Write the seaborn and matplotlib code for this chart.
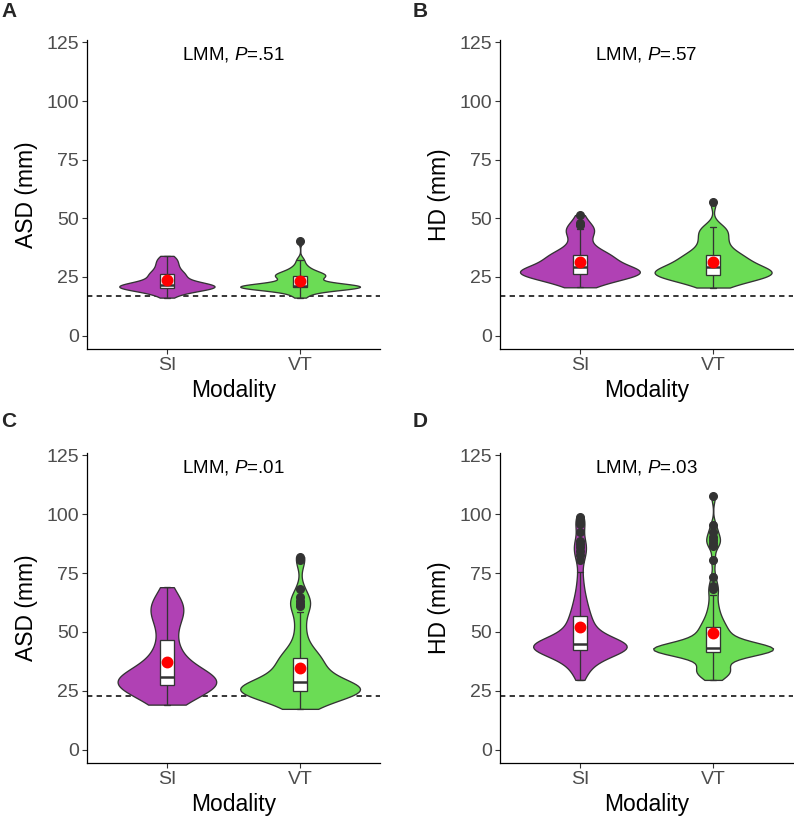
import numpy as np
import pandas as pd
import seaborn as sns
import matplotlib
matplotlib.use("Agg")
from matplotlib import pyplot as plt

modalities = ["SI", "VT"]
colors = {"SI": "#B041B4", "VT": "#6BDC55"}

# panel A - ASD (mm), first threshold
asd_a_si = [16.2, 17.5, 18.4, 19.0, 19.4, 19.7, 20.0, 20.1, 20.2, 20.2,
            20.4, 20.6, 20.8, 21.0, 21.1, 21.3, 21.4, 21.5, 21.6, 21.6,
            21.7, 22.0, 22.4, 22.9, 23.4, 24.0, 24.6, 25.2, 25.8, 26.1,
            26.4, 27.0, 27.8, 28.6, 29.4, 30.3, 31.2, 32.1, 33.0, 34.0]
asd_a_vt = [16.2, 17.6, 18.6, 19.3, 19.8, 20.1, 20.3, 20.4, 20.5, 20.55,
            20.6, 20.7, 20.8, 20.9, 21.0, 21.0, 21.1, 21.1, 21.2, 21.2,
            21.3, 21.5, 21.8, 22.2, 22.8, 23.6, 24.4, 24.9, 25.3, 25.4,
            25.7, 26.0, 26.3, 26.7, 27.2, 28.0, 28.8, 30.2, 32.4, 40.5]

# panel B - HD (mm)
hd_b_si = [20.6, 21.5, 22.3, 23.0, 23.6, 24.1, 24.6, 25.0, 25.4, 25.7,
           25.9, 26.1, 26.2, 26.4, 26.6, 26.8, 27.0, 27.2, 27.4, 27.6,
           27.8, 28.0, 28.3, 28.6, 28.9, 29.3, 29.7, 30.2, 30.7, 31.2,
           31.7, 32.2, 32.8, 33.4, 34.0, 34.3, 34.4, 34.5, 35.5, 36.5,
           37.5, 38.8, 40.5, 42.5, 44.0, 44.8, 45.3, 47.2, 47.9, 51.4]
hd_b_vt = [20.5, 21.4, 22.2, 22.9, 23.5, 24.0, 24.5, 24.9, 25.2, 25.5,
           25.7, 25.8, 25.9, 26.1, 26.3, 26.5, 26.7, 26.9, 27.1, 27.4,
           27.7, 28.0, 28.3, 28.6, 28.9, 29.3, 29.7, 30.1, 30.5, 31.0,
           31.5, 32.0, 32.6, 33.2, 33.8, 34.2, 34.4, 34.5, 35.6, 36.8,
           37.8, 39.0, 40.2, 41.4, 42.6, 43.8, 45.0, 46.0, 46.4, 57.0]

# panel C - ASD (mm), second threshold
asd_c_si = [19.1, 19.6, 20.3, 21.1, 22.0, 22.9, 23.7, 24.5, 25.2, 25.8,
            26.3, 26.7, 27.0, 27.3, 27.45, 27.6, 27.8, 28.0, 28.2, 28.4,
            28.6, 28.8, 29.0, 29.3, 29.6, 29.9, 30.2, 30.5, 30.7, 30.9,
            31.1, 31.6, 32.2, 32.9, 33.6, 34.4, 35.3, 36.2, 37.2, 38.3,
            39.5, 40.8, 42.2, 43.8, 46.0, 48.4, 50.5, 52.8, 54.6, 56.2,
            57.4, 58.4, 59.3, 60.1, 60.9, 61.8, 62.9, 64.3, 66.2, 69.0]
asd_c_vt = [17.3, 17.9, 18.6, 19.4, 20.3, 21.2, 22.0, 22.7, 23.3, 23.8,
            24.2, 24.45, 24.6, 24.7, 24.75, 24.8, 24.9, 25.0, 25.1, 25.2,
            25.35, 25.5, 25.65, 25.8, 26.0, 26.3, 26.7, 27.1, 27.6, 28.0,
            28.4, 28.6, 29.1, 29.7, 30.3, 31.0, 31.7, 32.4, 33.1, 33.9,
            34.7, 35.5, 36.4, 37.3, 38.2, 38.8, 39.2, 40.3, 41.5, 42.8,
            44.6, 47.5, 51.0, 54.5, 58.4, 61.0, 62.0, 63.3, 64.8, 68.3,
            80.4, 81.8]

# panel D - HD (mm)
hd_d_si = [29.6, 31.5, 33.0, 34.3, 35.4, 36.3, 37.1, 37.8, 38.4, 38.9,
           39.4, 39.8, 40.2, 40.6, 40.9, 41.2, 41.5, 41.8, 42.1, 42.3,
           42.5, 42.7, 42.9, 43.1, 43.3, 43.5, 43.6, 43.7, 43.8, 43.9,
           44.0, 44.1, 44.2, 44.3, 44.4, 44.5, 44.6, 44.7, 44.8, 44.9,
           45.1, 45.4, 45.7, 46.0, 46.4, 46.8, 47.2, 47.7, 48.2, 48.7,
           49.3, 49.9, 50.6, 51.3, 52.0, 52.8, 53.6, 54.5, 55.4, 56.3,
           57.3, 58.4, 59.6, 61.0, 62.5, 64.0, 66.0, 68.5, 71.5, 75.4,
           80.4, 82.5, 84.2, 86.0, 87.5, 88.5, 92.4, 96.0, 97.2, 98.6]
hd_d_vt = [29.6, 30.8, 31.6, 32.2, 32.7, 33.1, 33.5, 33.9, 34.4, 35.1,
           36.0, 37.2, 38.3, 39.1, 39.7, 40.2, 40.6, 40.9, 41.1, 41.3,
           41.5, 41.7, 41.85, 42.0, 42.1, 42.2, 42.3, 42.4, 42.5, 42.6,
           42.65, 42.7, 42.75, 42.8, 42.85, 42.9, 42.95, 43.0, 43.05, 43.1,
           43.2, 43.4, 43.6, 43.8, 44.0, 44.3, 44.6, 44.9, 45.3, 45.7,
           46.1, 46.6, 47.1, 47.7, 48.3, 49.0, 49.7, 50.4, 51.1, 51.8,
           52.6, 53.5, 54.5, 55.6, 57.0, 58.6, 60.5, 62.8, 65.5, 68.3,
           69.3, 73.3, 80.4, 86.7, 87.8, 89.0, 90.3, 92.4, 95.2, 107.6]

panel_letters = ["A", "B", "C", "D"]
y_labels = ["ASD (mm)", "HD (mm)", "ASD (mm)", "HD (mm)"]
p_values = [".51", ".57", ".01", ".03"]
ref_lines = [17.0, 17.0, 22.7, 22.7]
y_ticks = [0, 25, 50, 75, 100, 125]


def nrd0(kde):
    # R's bw.nrd0 rule (ggplot default), as a factor of the sample sd
    x = np.asarray(kde.dataset).ravel()
    sd = x.std(ddof=1)
    q75, q25 = np.percentile(x, [75, 25])
    lo = min(sd, (q75 - q25) / 1.34)
    return 0.9 * lo * len(x) ** -0.2 / sd


sns.set_theme(style="ticks")
plt.rcParams["font.family"] = ["Liberation Sans", "DejaVu Sans"]
plt.rcParams["mathtext.fontset"] = "custom"
plt.rcParams["mathtext.rm"] = "Liberation Sans"
plt.rcParams["mathtext.it"] = "Liberation Sans:italic"

W, H = 794, 818
fig = plt.figure(figsize=(W / 100, H / 100), dpi=100)
fig.patch.set_facecolor("white")

# left, top, right, bottom in pixels
boxes = [(87, 40, 380, 349), (500, 40, 793, 349),
         (87, 453, 380, 763), (500, 453, 793, 763)]
letter_pos = [(1, 2), (413, 2), (1, 412), (413, 412)]
bw = [0.85, 1.0, 0.9, 0.85]
data = [(asd_a_si, asd_a_vt), (hd_b_si, hd_b_vt),
        (asd_c_si, asd_c_vt), (hd_d_si, hd_d_vt)]

for i in range(4):
    l, t, r, b = boxes[i]
    ax = fig.add_axes([l / W, 1 - b / H, (r - l) / W, (b - t) / H])
    si, vt = data[i]
    df = pd.DataFrame({"Modality": ["SI"] * len(si) + ["VT"] * len(vt),
                       "value": si + vt})

    ax.axhline(ref_lines[i], color="black", linestyle=(0, (3.5, 2.8)),
               linewidth=1.1, zorder=0.5)

    # same area for every violin, widest one gets the full width
    sns.violinplot(data=df, x="Modality", y="value", hue="Modality",
                   order=modalities, hue_order=modalities, palette=colors,
                   legend=False, inner=None, cut=0, density_norm="area",
                   common_norm=True, width=0.9, linewidth=0.95,
                   linecolor="#333333", bw_method=nrd0, bw_adjust=bw[i],
                   saturation=1, ax=ax)
    sns.boxplot(data=df, x="Modality", y="value", order=modalities,
                width=0.1, color="white", linecolor="#333333", linewidth=0.95,
                fliersize=5.5,
                flierprops=dict(marker="o", markerfacecolor="#333333",
                                markeredgecolor="#333333"),
                medianprops=dict(linewidth=1.8), ax=ax)
    sns.pointplot(data=df, x="Modality", y="value", order=modalities,
                  estimator="mean", errorbar=None, linestyle="none",
                  color="red", markersize=6.5, zorder=5, ax=ax)

    ax.text(0.5, 120, r"LMM, $\mathit{P}$=" + p_values[i], ha="center",
            va="center", fontsize=13.5, color="black")

    ax.set_xlim(-0.6, 1.6)
    ax.set_ylim(-5.7, 126)
    ax.set_yticks(y_ticks)
    ax.set_xlabel("Modality", fontsize=16.5, color="black", labelpad=3)
    ax.set_ylabel(y_labels[i], fontsize=16.5, color="black", labelpad=6)
    ax.tick_params(axis="both", labelsize=14, labelcolor="#4D4D4D",
                   color="#333333", length=3.5, width=0.8, pad=2.5)
    sns.despine(ax=ax)
    for s in ["left", "bottom"]:
        ax.spines[s].set_color("black")
        ax.spines[s].set_linewidth(0.9)
    ax.set_facecolor("white")

    lx, ly = letter_pos[i]
    fig.text(lx / W, 1 - ly / H, panel_letters[i], fontsize=15,
             fontweight="bold", ha="left", va="top")

fig.savefig("out.png", dpi=100, facecolor="white")
